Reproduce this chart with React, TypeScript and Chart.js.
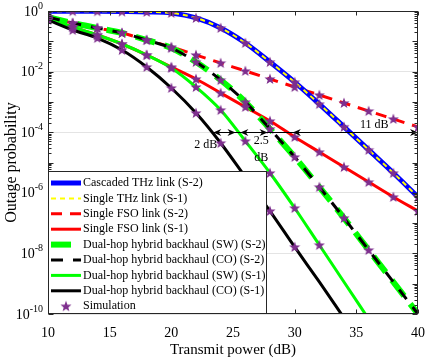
import { useEffect, useRef } from 'react';
import { Chart, registerables } from 'chart.js';

Chart.register(...registerables);

// ---------------- data ----------------
const powerDb = [10, 12, 14, 16, 18, 20, 22, 24, 26, 28, 30, 32, 34, 36, 38, 40];

const cascadedThzS2 = [0.99, 0.99, 0.98, 0.96, 0.93, 0.86, 0.59, 0.275, 0.088, 0.0207, 4.5e-3, 8.5e-4, 1.5e-4, 2.6e-5, 4.5e-6, 7.3e-7];
const singleThzS1 = [0.99, 0.99, 0.98, 0.96, 0.93, 0.86, 0.59, 0.275, 0.088, 0.0207, 4.5e-3, 8.5e-4, 1.5e-4, 2.6e-5, 4.5e-6, 7.3e-7];
const singleFsoS2 = [0.63, 0.4, 0.275, 0.188, 0.11, 0.065, 0.0353, 0.0192, 0.0105, 5.7e-3, 3.1e-3, 1.69e-3, 9.2e-4, 5.0e-4, 2.73e-4, 1.49e-4];
const singleFsoS1 = [0.545, 0.296, 0.161, 0.0814, 0.0353, 0.0142, 5.7e-3, 1.97e-3, 6.8e-4, 2.34e-4, 6.95e-5, 2.22e-5, 7.1e-6, 2.27e-6, 7.3e-7, 2.5e-7];
const dualSwS2 = [0.63, 0.4, 0.275, 0.188, 0.11, 0.06, 0.0207, 5.28e-3, 9.9e-4, 1.28e-4, 1.52e-5, 1.55e-6, 1.47e-7, 1.29e-8, 1.14e-9, 1.0e-10];
const dualCoS2 = [0.63, 0.4, 0.275, 0.188, 0.11, 0.06, 0.0207, 5.28e-3, 9.9e-4, 1.28e-4, 1.52e-5, 1.55e-6, 1.47e-7, 1.29e-8, 1.14e-9, 1.0e-10];
const dualSwS1 = [0.545, 0.296, 0.161, 0.0814, 0.0353, 0.0132, 3.1e-3, 5.4e-4, 5.1e-5, 4.5e-6, 3.15e-7, 1.89e-8, 1.14e-9, 6.8e-11];
const dualCoS1 = [0.505, 0.236, 0.128, 0.0516, 0.0142, 2.88e-3, 4.3e-4, 4.4e-5, 3.3e-6, 2.5e-7, 1.63e-8, 1.14e-9, 7.4e-11];

const seriesLabels = [
  'Cascaded THz link (S-2)',
  'Single THz link (S-1)',
  'Single FSO link (S-2)',
  'Single FSO link (S-1)',
  'Dual-hop hybrid backhaul (SW) (S-2)',
  'Dual-hop hybrid backhaul (CO) (S-2)',
  'Dual-hop hybrid backhaul (SW) (S-1)',
  'Dual-hop hybrid backhaul (CO) (S-1)',
  'Simulation',
];

const xTickValues = [10, 15, 20, 25, 30, 35, 40];
const yTickExponents = [0, -2, -4, -6, -8, -10];

// simulation is run down to about 1e-8
const simulationFloor = 1e-8;

// annotation: double arrows at the 1e-4 level
const arrowLevel = 1e-4;
const arrowFrom = [23.4, 25.6, 29.85];
const arrowTo = [25.2, 27.8, 40];
const noteTexts = ['2 dB', '2.5', 'dB', '11 dB'];
const noteX = [22.8, 27.3, 27.3, 36.45];

// ---------------- helpers ----------------
const SERIF = "'Liberation Serif', 'Times New Roman', serif";
const PURPLE = '#7E2F8E';

function toPoints(values: number[]) {
  return values.map((v, i) => ({ x: powerDb[i], y: v }));
}

function makeStar(size: number, color: string) {
  const c = document.createElement('canvas');
  c.width = size;
  c.height = size;
  const ctx = c.getContext('2d')!;
  const cx = size / 2;
  const cy = size / 2 + 0.4;
  const ro = size / 2 - 0.2;
  const ri = ro * 0.42;
  ctx.beginPath();
  for (let i = 0; i < 10; i++) {
    const r = i % 2 === 0 ? ro : ri;
    const a = -Math.PI / 2 + (i * Math.PI) / 5;
    const px = cx + r * Math.cos(a);
    const py = cy + r * Math.sin(a);
    if (i === 0) ctx.moveTo(px, py);
    else ctx.lineTo(px, py);
  }
  ctx.closePath();
  ctx.fillStyle = color;
  ctx.fill();
  return c;
}

function arrowHead(ctx: CanvasRenderingContext2D, x: number, y: number, dir: number) {
  const L = 8;
  const W = 3.6;
  const notch = 2.5;
  ctx.beginPath();
  ctx.moveTo(x, y);
  ctx.lineTo(x - dir * L, y - W);
  ctx.lineTo(x - dir * (L - notch), y);
  ctx.lineTo(x - dir * L, y + W);
  ctx.closePath();
  ctx.fill();
}

export default function App() {
  const canvasRef = useRef<HTMLCanvasElement | null>(null);

  useEffect(() => {
    document.body.style.margin = '0';
    const canvas = canvasRef.current;
    if (!canvas) return;
    const star = makeStar(12, PURPLE);

    const curves = [cascadedThzS2, singleThzS1, singleFsoS2, singleFsoS1, dualSwS2, dualCoS2, dualSwS1, dualCoS1];
    const simCurves = [cascadedThzS2, singleFsoS2, singleFsoS1, dualSwS2, dualSwS1, dualCoS1];
    const simPoints: { x: number; y: number }[] = [];
    simCurves.forEach((c) =>
      c.forEach((v, i) => {
        if (v >= simulationFloor) simPoints.push({ x: powerDb[i], y: v });
      })
    );

    const styles = [
      { color: '#0000FF', width: 5, dash: [] as number[], order: 7 },
      { color: '#FFFF00', width: 2, dash: [5, 4], order: 6 },
      { color: '#FF0000', width: 3, dash: [11, 8], order: 8 },
      { color: '#FF0000', width: 3, dash: [], order: 5 },
      { color: '#00FF00', width: 6, dash: [20, 10], order: 3 },
      { color: '#000000', width: 3, dash: [12, 10], order: 2 },
      { color: '#00FF00', width: 3, dash: [], order: 4 },
      { color: '#000000', width: 3, dash: [], order: 1 },
    ];

    const datasets: any[] = curves.map((c, i) => ({
      label: seriesLabels[i],
      data: toPoints(c),
      borderColor: styles[i].color,
      backgroundColor: styles[i].color,
      borderWidth: styles[i].width,
      borderDash: styles[i].dash,
      pointRadius: 0,
      cubicInterpolationMode: 'monotone',
      order: styles[i].order,
      fill: false,
    }));
    datasets.push({
      label: seriesLabels[8],
      data: simPoints,
      showLine: false,
      pointStyle: star,
      pointRadius: 5,
      borderColor: PURPLE,
      backgroundColor: PURPLE,
      order: 0,
    });

    const decor = {
      id: 'matlabDecor',
      afterDatasetsDraw(chart: any) {
        const { ctx, scales } = chart;
        const xs = scales.x;
        const ys = scales.y;
        const ay = Math.round(ys.getPixelForValue(arrowLevel)) + 0.5;
        ctx.save();
        ctx.strokeStyle = '#000';
        ctx.fillStyle = '#000';
        ctx.lineWidth = 1;
        ctx.beginPath();
        ctx.moveTo(xs.getPixelForValue(arrowFrom[0]), ay);
        ctx.lineTo(xs.getPixelForValue(arrowTo[arrowTo.length - 1]), ay);
        ctx.stroke();
        for (let i = 0; i < arrowFrom.length; i++) {
          arrowHead(ctx, xs.getPixelForValue(arrowFrom[i]), ay, -1);
          arrowHead(ctx, xs.getPixelForValue(arrowTo[i]), ay, 1);
        }
        ctx.font = `12px ${SERIF}`;
        ctx.textAlign = 'center';
        ctx.textBaseline = 'middle';
        const dy = [12, 8, 25, -8];
        noteTexts.forEach((t, i) => {
          ctx.fillText(t, xs.getPixelForValue(noteX[i]), ay + dy[i]);
        });
        ctx.restore();
      },
      afterDraw(chart: any) {
        const { ctx, chartArea, scales } = chart;
        const xs = scales.x;
        const ys = scales.y;
        const L = Math.round(chartArea.left) + 0.5;
        const R = Math.round(chartArea.right) - 0.5;
        const T = Math.round(chartArea.top) + 0.5;
        const B = Math.round(chartArea.bottom) - 0.5;
        ctx.save();
        ctx.strokeStyle = '#262626';
        ctx.lineWidth = 1;
        // ticks
        ctx.beginPath();
        xTickValues.forEach((v) => {
          const px = Math.round(xs.getPixelForValue(v)) + 0.5;
          ctx.moveTo(px, B);
          ctx.lineTo(px, B - 4);
          ctx.moveTo(px, T);
          ctx.lineTo(px, T + 4);
        });
        for (let d = -10; d <= 0; d++) {
          for (let k = 1; k < 10; k++) {
            if (d === 0 && k > 1) break;
            const v = k * Math.pow(10, d);
            const py = Math.round(ys.getPixelForValue(v)) + 0.5;
            const len = k === 1 ? 5 : 3;
            ctx.moveTo(L, py);
            ctx.lineTo(L + len, py);
            ctx.moveTo(R, py);
            ctx.lineTo(R - len, py);
          }
        }
        ctx.stroke();
        // frame
        ctx.strokeRect(L, T, R - L, B - T);

        // y tick labels with superscripts
        ctx.fillStyle = '#000';
        ctx.textAlign = 'right';
        ctx.textBaseline = 'middle';
        yTickExponents.forEach((e) => {
          const py = ys.getPixelForValue(Math.pow(10, e));
          const expText = String(e);
          ctx.font = `10px ${SERIF}`;
          const ew = ctx.measureText(expText).width;
          ctx.fillText(expText, 43, py - 5);
          ctx.font = `14px ${SERIF}`;
          ctx.fillText('10', 43 - ew, py + 1);
        });

        // legend box
        const lx = L;
        const lt = 171.5;
        const lr = 266.5;
        ctx.fillStyle = '#fff';
        ctx.fillRect(lx, lt, lr - lx, B - lt);
        ctx.strokeStyle = '#262626';
        ctx.strokeRect(lx, lt, lr - lx, B - lt);
        ctx.font = `12px ${SERIF}`;
        ctx.textAlign = 'left';
        ctx.textBaseline = 'middle';
        chart.data.datasets.forEach((ds: any, i: number) => {
          const ry = 183 + i * 15.4;
          if (ds.showLine === false) {
            ctx.drawImage(ds.pointStyle, 66 - 6, ry - 6);
          } else {
            ctx.save();
            ctx.strokeStyle = ds.borderColor;
            ctx.lineWidth = ds.borderWidth;
            ctx.setLineDash(ds.borderDash || []);
            ctx.beginPath();
            ctx.moveTo(51, ry);
            ctx.lineTo(81, ry);
            ctx.stroke();
            ctx.restore();
          }
          ctx.fillStyle = '#000';
          ctx.fillText(ds.label, 83, ry);
        });
        ctx.restore();
      },
    };

    const chart = new Chart(canvas, {
      type: 'line',
      data: { datasets },
      options: {
        animation: false,
        responsive: false,
        maintainAspectRatio: false,
        layout: { padding: { left: 0, right: 9, top: 11, bottom: 0 } },
        plugins: { legend: { display: false }, tooltip: { enabled: false } },
        scales: {
          x: {
            type: 'linear',
            min: 10,
            max: 40,
            afterBuildTicks: (s: any) => {
              s.ticks = xTickValues.map((v) => ({ value: v }));
            },
            ticks: { font: { family: SERIF, size: 14 }, color: '#000', padding: 11, maxRotation: 0, autoSkip: false },
            grid: { display: false, drawTicks: false },
            border: { display: false },
            title: {
              display: true,
              text: 'Transmit power (dB)',
              font: { family: SERIF, size: 15 },
              color: '#000',
              padding: { top: 0, bottom: 1 },
            },
            afterFit: (s: any) => {
              s.height = 46;
            },
          },
          y: {
            type: 'logarithmic',
            min: 1e-10,
            max: 1,
            afterBuildTicks: (s: any) => {
              s.ticks = yTickExponents.map((e) => ({ value: Math.pow(10, e) }));
            },
            ticks: { display: false },
            grid: { color: '#e4e4e4', drawTicks: false, lineWidth: 1 },
            border: { display: false },
            title: {
              display: true,
              text: 'Outage probability',
              font: { family: SERIF, size: 16 },
              color: '#000',
              padding: { top: 2, bottom: 0 },
            },
            afterFit: (s: any) => {
              s.width = 48;
            },
          },
        },
      } as any,
      plugins: [decor],
    });

    return () => chart.destroy();
  }, []);

  return <canvas ref={canvasRef} width={436} height={360} style={{ display: 'block' }} />;
}
